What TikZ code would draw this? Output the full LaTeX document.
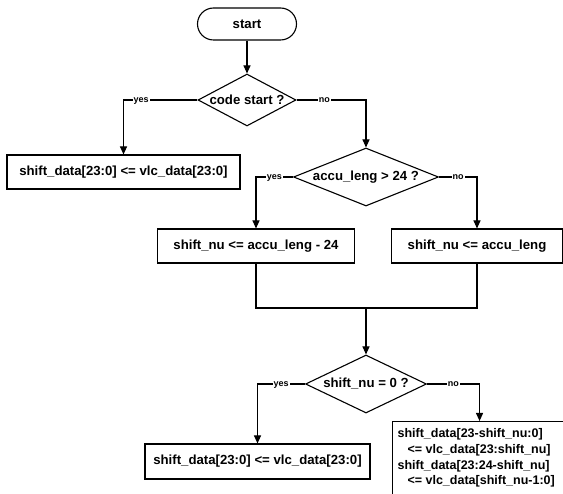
\documentclass[tikz,border=0pt]{standalone}
\usepackage{fontspec}
\setmainfont{Liberation Sans}
\usetikzlibrary{shapes.geometric,arrows.meta,positioning}
\begin{document}
\begin{tikzpicture}[x=1pt,y=-1pt,line width=1.1pt,
    font=\fontsize{13.2}{17}\selectfont\bfseries,
    blk/.style={draw,rectangle,inner sep=0pt},
    dia/.style={draw,diamond,inner sep=0pt},
    arr/.style={-{Triangle[length=8pt,width=7pt]}},
    lab/.style={fill=white,inner sep=1pt,text depth=0pt,font=\fontsize{9}{10}\selectfont\bfseries}]
    \useasboundingbox (0,0) rectangle (563,494);
    \clip (0,0) rectangle (563,494);
    \node[blk,rounded corners=16pt,minimum width=99pt,minimum height=32pt] (start) at (247,24) {start};
    \node[dia,minimum width=98pt,minimum height=52pt,label={center:{code start ?}}] (d1) at (247,100) {};
    \node[blk,minimum width=233pt,minimum height=34pt] (b1) at (123.5,172) {shift\_data[23:0] <= vlc\_data[23:0]};
    \node[dia,minimum width=145pt,minimum height=58pt,label={center:{accu\_leng > 24 ?}}] (d2) at (366,177) {};
    \node[blk,minimum width=197pt,minimum height=34pt] (b2) at (256,246) {shift\_nu <= accu\_leng - 24};
    \node[blk,minimum width=171pt,minimum height=34pt] (b3) at (477,246) {shift\_nu <= accu\_leng};
    \coordinate (m) at (366,308);
    \node[dia,minimum width=121pt,minimum height=58pt,label={center:{shift\_nu = 0 ?}}] (d3) at (366,384) {};
    \node[blk,minimum width=225pt,minimum height=35pt] (b4) at (257.5,461.5) {shift\_data[23:0] <= vlc\_data[23:0]};
    \node[blk,anchor=north west,minimum width=174pt,minimum height=100pt] (b5) at (392,421) {};
    \node[below right=7pt and 5pt of b5.north west,align=left,inner sep=0pt,
          font=\fontsize{12.5}{15.7}\selectfont\bfseries] (b5t)
      {shift\_data[23-shift\_nu:0]\\\hspace*{10pt}<= vlc\_data[23:shift\_nu]\\
       shift\_data[23:24-shift\_nu]\\\hspace*{10pt}<= vlc\_data[shift\_nu-1:0]};
    \draw[arr] (start) -- (d1);
    \draw[arr] (d1.west) -| node[lab,pos=0.38]{yes} (b1.north);
    \draw[arr] (d1.east) -| node[lab,pos=0.2]{no} (d2.north);
    \draw[arr] (d2.west) -| node[lab,pos=0.25]{yes} (b2.north);
    \draw[arr] (d2.east) -| node[lab,pos=0.25]{no} (b3.north);
    \draw (b2.south) |- (m) -| (b3.south);
    \draw[arr] (m) -- (d3.north);
    \draw[arr] (d3.west) -| node[lab,pos=0.25]{yes} (b4.north);
    \draw[arr] (d3.east) -| node[lab,pos=0.25]{no} (b5.north);
\end{tikzpicture}
\end{document}
